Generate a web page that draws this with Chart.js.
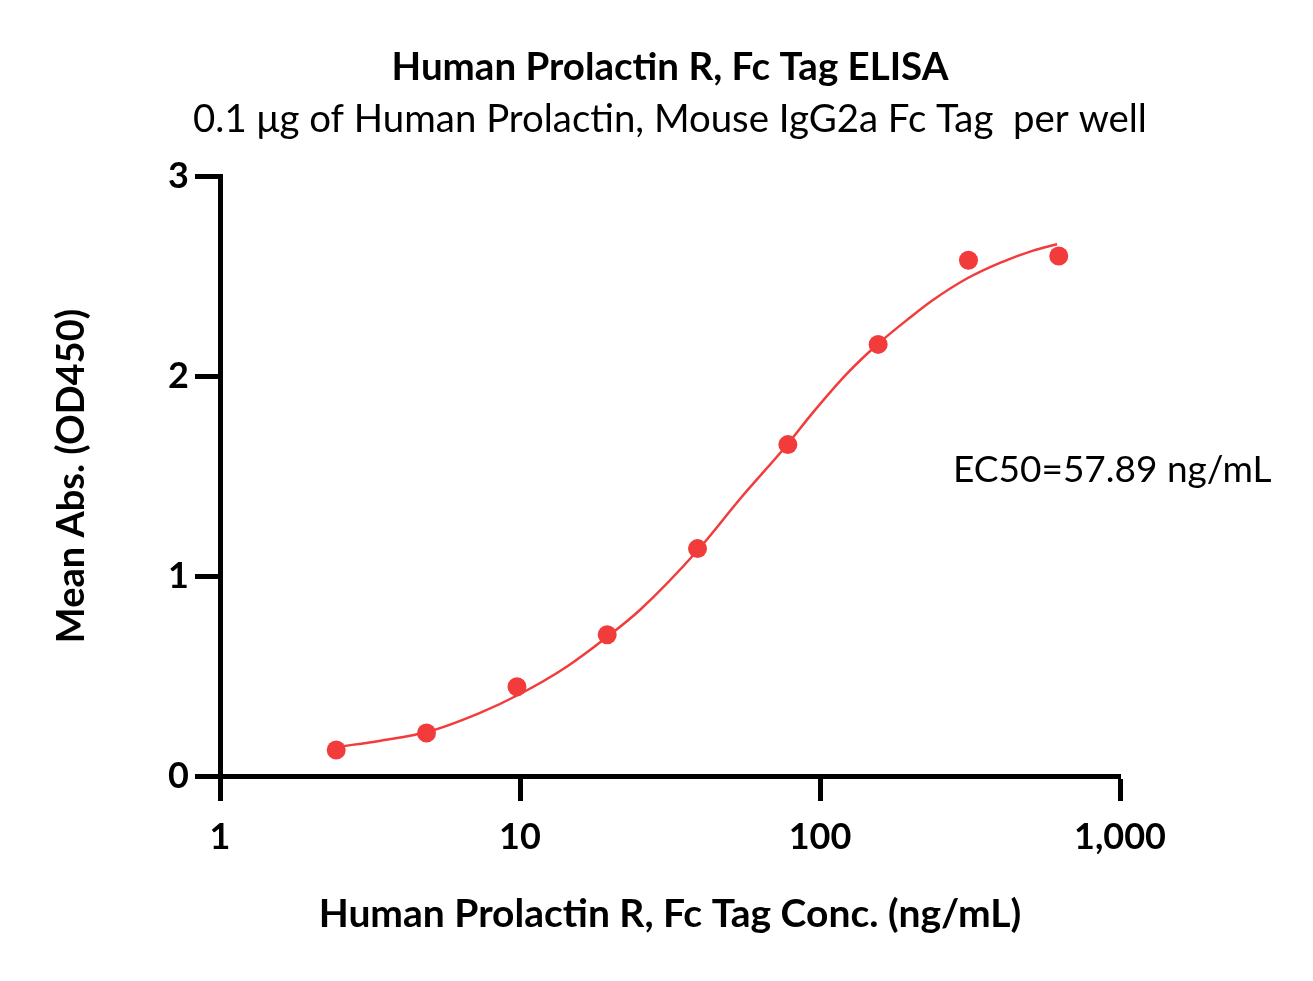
<!DOCTYPE html>
<html>
<head>
<meta charset="utf-8">
<script src="https://cdn.jsdelivr.net/npm/chart.js@4.4.1/dist/chart.umd.min.js"></script>
<style>
  html, body { margin: 0; padding: 0; background: #ffffff; }
  #wrap { width: 1313px; height: 981px; position: relative; }
</style>
</head>
<body>
<div id="wrap"><canvas id="c" width="1313" height="981"></canvas></div>
<script>
// Measured points (concentration ng/mL, mean OD450)
const concentrations = [2.44, 4.88, 9.77, 19.53, 39.06, 78.13, 156.25, 312.5, 625];
const meanAbs = [0.13, 0.215, 0.446, 0.706, 1.137, 1.657, 2.158, 2.579, 2.60];

// Fitted curve
const curveX = [2.455, 3.467, 4.898, 7.36, 10, 14.1, 19.5, 25.1, 39.2, 54.1, 77.6, 94.8, 123, 156, 199.5, 238, 311, 398, 513, 617];
const curveY = [0.145, 0.178, 0.220, 0.316, 0.410, 0.540, 0.695, 0.830, 1.130, 1.385, 1.655, 1.818, 2.012, 2.160, 2.292, 2.380, 2.490, 2.566, 2.627, 2.659];

const xTicks = [1, 10, 100, 1000];
const xTickLabels = ['1', '10', '100', '1,000'];
const yTicks = [0, 1, 2, 3];

const titleText = 'Human Prolactin R, Fc Tag ELISA';
const subtitleText = '0.1 \u03bcg of Human Prolactin, Mouse IgG2a Fc Tag  per well';
const xTitle = 'Human Prolactin R, Fc Tag Conc. (ng/mL)';
const yTitle = 'Mean Abs. (OD450)';
const ec50Text = 'EC50=57.89 ng/mL';

const RED = '#F23C3C';
const FONT = 'Lato, "Open Sans", sans-serif';

const textPlugin = {
  id: 'texts',
  afterDraw(chart) {
    const ctx = chart.ctx;
    const area = chart.chartArea;
    const cx = (area.left + area.right) / 2;
    ctx.save();
    ctx.fillStyle = '#000';
    ctx.textAlign = 'center';
    ctx.textBaseline = 'middle';
    ctx.font = 'bold 38.5px ' + FONT;
    ctx.fillText(titleText, cx, 68);
    ctx.font = '38.4px ' + FONT;
    ctx.fillText(subtitleText, cx, 120);
    ctx.font = 'bold 39px ' + FONT;
    ctx.fillText(xTitle, cx, 914);
    ctx.save();
    ctx.translate(72, (area.top + area.bottom) / 2);
    ctx.rotate(-Math.PI / 2);
    ctx.font = 'bold 38px ' + FONT;
    ctx.fillText(yTitle, 0, 0);
    ctx.restore();
    ctx.textAlign = 'left';
    ctx.font = '37px ' + FONT;
    ctx.fillText(ec50Text, 953, 470);
    ctx.restore();
  }
};

new Chart(document.getElementById('c'), {
  type: 'scatter',
  data: {
    datasets: [
      {
        type: 'line',
        data: curveX.map((x, i) => ({ x: x, y: curveY[i] })),
        borderColor: RED,
        borderWidth: 2.5,
        pointRadius: 0,
        fill: false,
        cubicInterpolationMode: 'monotone',
        order: 2
      },
      {
        data: concentrations.map((x, i) => ({ x: x, y: meanAbs[i] })),
        backgroundColor: RED,
        borderColor: RED,
        pointRadius: 9.5,
        pointHoverRadius: 9.5,
        borderWidth: 0,
        order: 1
      }
    ]
  },
  options: {
    responsive: false,
    animation: false,
    events: [],
    layout: { padding: { left: 0, right: 193, top: 176, bottom: 0 } },
    plugins: { legend: { display: false }, tooltip: { enabled: false }, title: { display: false } },
    scales: {
      x: {
        type: 'logarithmic',
        min: 1, max: 1000,
        afterBuildTicks(scale) { scale.ticks = xTicks.map(v => ({ value: v })); },
        afterFit(scale) { scale.height = 981 - 776; },
        ticks: {
          autoSkip: false,
          maxRotation: 0,
          color: '#000',
          padding: 15,
          font: { family: FONT, size: 36, weight: 'bold' },
          callback(value) { const i = xTicks.indexOf(value); return i >= 0 ? xTickLabels[i] : ''; }
        },
        grid: { drawOnChartArea: false, tickLength: 25, tickWidth: 5, tickColor: '#000' },
        border: { color: '#000', width: 5 }
      },
      y: {
        min: 0, max: 3,
        afterBuildTicks(scale) { scale.ticks = yTicks.map(v => ({ value: v })); },
        afterFit(scale) { scale.width = 220; },
        ticks: {
          color: '#000',
          padding: 6,
          font: { family: FONT, size: 36, weight: 'bold' }
        },
        grid: { drawOnChartArea: false, tickLength: 25, tickWidth: 5, tickColor: '#000' },
        border: { color: '#000', width: 5 }
      }
    }
  },
  plugins: [textPlugin]
});
</script>
</body>
</html>
